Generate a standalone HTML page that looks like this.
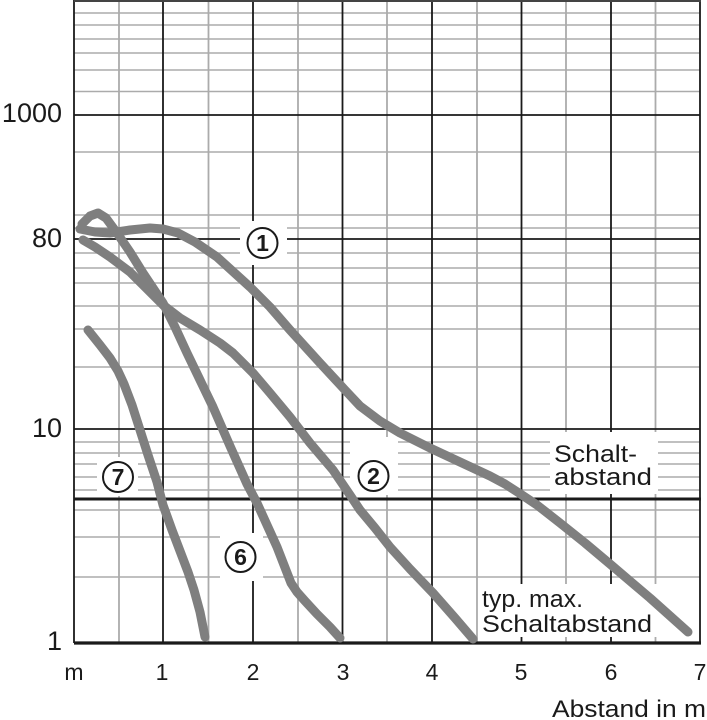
<!DOCTYPE html>
<html><head><meta charset="utf-8"><style>
html,body{margin:0;padding:0;background:#fff;}
svg{display:block;}
text{font-family:"Liberation Sans",sans-serif;fill:#1a1a1a;}
</style></head><body>
<svg width="707" height="720" viewBox="0 0 707 720" xmlns="http://www.w3.org/2000/svg">
<rect width="707" height="720" fill="#fff"/>
<!-- gray horizontal grid -->
<g stroke="#ababab" stroke-width="1.6">
<line x1="74" x2="700" y1="13" y2="13"/><line x1="74" x2="700" y1="25" y2="25"/>
<line x1="74" x2="700" y1="39" y2="39"/><line x1="74" x2="700" y1="53" y2="53"/>
<line x1="74" x2="700" y1="70" y2="70"/><line x1="74" x2="700" y1="91.5" y2="91.5"/>
<line x1="74" x2="700" y1="152" y2="152"/><line x1="74" x2="700" y1="215" y2="215"/>
<line x1="74" x2="700" y1="228" y2="228"/><line x1="74" x2="700" y1="253" y2="253"/>
<line x1="74" x2="700" y1="268" y2="268"/><line x1="74" x2="700" y1="283" y2="283"/>
<line x1="74" x2="700" y1="306" y2="306"/><line x1="74" x2="700" y1="329" y2="329"/>
<line x1="74" x2="700" y1="367" y2="367"/><line x1="74" x2="700" y1="442" y2="442"/>
<line x1="74" x2="700" y1="453" y2="453"/><line x1="74" x2="700" y1="464" y2="464"/>
<line x1="74" x2="700" y1="477" y2="477"/><line x1="74" x2="700" y1="490" y2="490"/>
<line x1="74" x2="700" y1="510" y2="510"/><line x1="74" x2="700" y1="537" y2="537"/>
<line x1="74" x2="700" y1="577" y2="577"/>
</g>
<!-- gray vertical grid -->
<g stroke="#ababab" stroke-width="1.8">
<line x1="119" x2="119" y1="0" y2="643"/><line x1="208.5" x2="208.5" y1="0" y2="643"/>
<line x1="298" x2="298" y1="0" y2="643"/><line x1="387" x2="387" y1="0" y2="643"/>
<line x1="477" x2="477" y1="0" y2="643"/><line x1="566" x2="566" y1="0" y2="643"/>
<line x1="655.5" x2="655.5" y1="0" y2="643"/>
</g>
<!-- black grid -->
<g stroke="#1a1a1a" stroke-width="1.8">
<line x1="74" x2="700" y1="115" y2="115"/>
<line x1="74" x2="700" y1="239" y2="239"/>
<line x1="74" x2="700" y1="429" y2="429"/>
<line x1="163" x2="163" y1="0" y2="643"/><line x1="253" x2="253" y1="0" y2="643"/>
<line x1="342.5" x2="342.5" y1="0" y2="643"/><line x1="432" x2="432" y1="0" y2="643"/>
<line x1="521.5" x2="521.5" y1="0" y2="643"/><line x1="611" x2="611" y1="0" y2="643"/>
<line x1="700" x2="700" y1="0" y2="643"/>
<line x1="74" x2="74" y1="0" y2="643"/>
</g>
<line x1="74" x2="701" y1="1" y2="1" stroke="#444" stroke-width="2"/>
<!-- white knockout boxes -->
<g fill="#fff">
<rect x="240" y="221" width="47" height="44"/>
<rect x="350" y="437" width="48" height="58"/>
<rect x="97" y="457" width="41" height="39"/>
<rect x="220" y="533" width="43" height="48"/>
<rect x="550" y="432" width="108" height="62"/>
<rect x="478" y="584" width="182" height="53"/>
</g>
<!-- thick lines -->
<line x1="74" x2="701" y1="499" y2="499" stroke="#1a1a1a" stroke-width="3"/>
<line x1="74" x2="701" y1="643" y2="643" stroke="#1a1a1a" stroke-width="3.2"/>
<!-- curves -->
<g fill="none" stroke="#7f7f7f" stroke-width="9" stroke-linecap="round" stroke-linejoin="round">
<polyline points="80,229 95,232 110,233 130,230 150,228 163,229 178,233 195,242 217,257 250,287 270,307 290,330 320,363 345,390 360,406 380,421 400,433 430,448 460,462 490,476 505,484 519,493 537,505 560,523 585,543 610,564 650,598 688,632"/>
<polyline points="82,224 90,216 98,213 106,218 117,233 130,252 143,273 163,303 175,327 187,353 200,380 213,407 230,446 247,484 257,503 277,547 291,583 297,592 305,601 317,614 330,627 340,638"/>
<polyline points="83,240 95,247 110,257 130,272 145,287 163,305 180,318 200,330 220,343 233,353 253,373 270,393 290,417 310,443 333,470 350,495 360,510 375,528 390,547 410,569 433,593 455,618 473,639"/>
<polyline points="88,330 100,345 110,358 118,371 124,384 132,405 140,430 148,455 157,482 163,505 172,530 180,551 188,572 194,590 200,612 205,637"/>
</g>
<!-- circled labels -->
<g fill="none" stroke="#1a1a1a" stroke-width="2">
<circle cx="262.5" cy="243" r="15"/>
<circle cx="373.5" cy="476" r="15"/>
<circle cx="118" cy="477" r="15"/>
<circle cx="240.5" cy="557" r="15"/>
</g>
<g font-weight="bold" font-size="23" text-anchor="middle">
<text x="262.5" y="251">1</text>
<text x="373.5" y="484">2</text>
<text x="118" y="485">7</text>
<text x="240.5" y="565">6</text>
</g>
<!-- y labels -->
<g font-size="27" text-anchor="end">
<text x="62" y="122">1000</text>
<text x="62" y="247">80</text>
<text x="62" y="437">10</text>
<text x="62" y="650">1</text>
</g>
<!-- x labels -->
<g font-size="23" text-anchor="middle">
<text x="74" y="680">m</text>
<text x="162" y="680">1</text>
<text x="253" y="680">2</text>
<text x="343" y="680">3</text>
<text x="432" y="680">4</text>
<text x="521" y="680">5</text>
<text x="611" y="680">6</text>
<text x="700" y="680">7</text>
</g>
<g font-size="24">
<text x="552" y="717" textLength="154" lengthAdjust="spacingAndGlyphs">Abstand in m</text>
<text x="554" y="462" textLength="83" lengthAdjust="spacingAndGlyphs">Schalt-</text>
<text x="554" y="485" textLength="98" lengthAdjust="spacingAndGlyphs">abstand</text>
<text x="482" y="607" textLength="101" lengthAdjust="spacingAndGlyphs">typ. max.</text>
<text x="482" y="632" textLength="170" lengthAdjust="spacingAndGlyphs">Schaltabstand</text>
</g>
</svg>
</body></html>
